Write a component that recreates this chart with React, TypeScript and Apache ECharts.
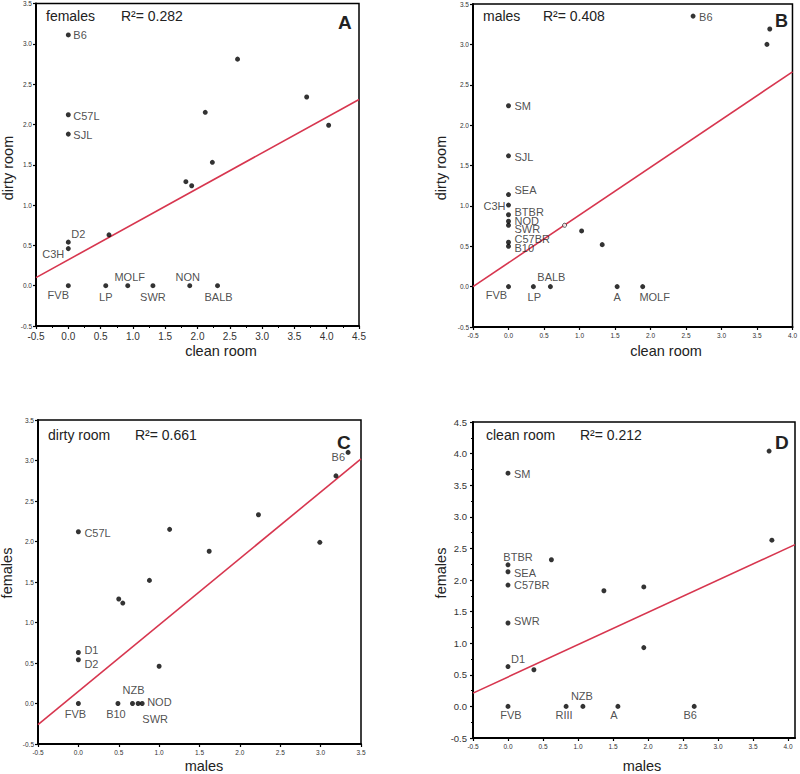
import React, { useEffect, useRef } from "react";
import * as echarts from "echarts";

// ---------- Panel A: females, clean room (x) vs dirty room (y) ----------
const aNames = ["B6", "C57L", "SJL", "D2", "C3H", "FVB", "", "LP", "MOLF", "SWR", "NON", "BALB", "", "", "", "", "", "", ""];
const aX = [0, 0, 0, 0, 0, 0, 0.63, 0.58, 0.92, 1.31, 1.88, 2.31, 1.82, 1.91, 2.23, 2.12, 2.62, 3.69, 4.03];
const aY = [3.11, 2.12, 1.88, 0.54, 0.46, 0, 0.63, 0, 0, 0, 0, 0, 1.29, 1.24, 1.53, 2.15, 2.81, 2.34, 1.99];
const aFitX = [-0.5, 4.5];
const aFitY = [0.1, 2.31];

// ---------- Panel B: males, clean room (x) vs dirty room (y) ----------
const bNames = ["B6", "", "", "SM", "SJL", "SEA", "C3H", "BTBR", "NOD", "SWR", "C57BR", "B10", "FVB", "LP", "BALB", "A", "MOLF", "", "", ""];
const bX = [2.6, 3.68, 3.64, 0, 0, 0, 0, 0, 0, 0, 0, 0, 0, 0.35, 0.59, 1.53, 1.89, 0.79, 1.03, 1.32];
const bY = [3.35, 3.19, 3.0, 2.24, 1.62, 1.14, 1.01, 0.89, 0.81, 0.76, 0.55, 0.5, 0, 0, 0, 0, 0, 0.76, 0.69, 0.52];
const bFitX = [-0.5, 4.0];
const bFitY = [0.0, 2.66];

// ---------- Panel C: dirty room, males (x) vs females (y) ----------
const cNames = ["B6", "", "C57L", "", "", "", "", "", "", "", "D1", "D2", "", "FVB", "B10", "NZB", "SWR", "NOD"];
const cX = [3.34, 3.19, 0, 1.13, 2.23, 2.99, 1.62, 0.88, 0.5, 0.55, 0, 0, 1.0, 0, 0.49, 0.67, 0.74, 0.79];
const cY = [3.1, 2.81, 2.12, 2.15, 2.33, 1.99, 1.88, 1.52, 1.29, 1.24, 0.63, 0.54, 0.46, 0, 0, 0, 0, 0];
const cFitX = [-0.5, 3.5];
const cFitY = [-0.26, 3.02];

// ---------- Panel D: clean room, males (x) vs females (y) ----------
const dNames = ["", "", "SM", "BTBR", "SEA", "C57BR", "SWR", "D1", "", "", "", "", "", "FVB", "RIII", "NZB", "A", "B6"];
const dX = [3.73, 3.77, 0, 0, 0, 0, 0, 0, 0.62, 1.37, 1.94, 1.94, 0.37, 0, 0.83, 1.07, 1.57, 2.66];
const dY = [4.04, 2.63, 3.69, 2.24, 2.13, 1.92, 1.32, 0.63, 2.32, 1.83, 1.89, 0.93, 0.58, 0, 0, 0, 0, 0];
const dFitX = [-0.5, 4.1];
const dFitY = [0.21, 2.56];

// label placements (offset of label anchor from point, alignment) — styling only
type Place = [number, number, "left" | "center" | "right"];
const aPlace: Record<string, Place> = {
  B6: [5, 0, "left"], C57L: [5, 1, "left"], SJL: [5, 1, "left"],
  D2: [3, -8, "left"], C3H: [-4, 5, "right"], FVB: [-10, 9, "center"],
  LP: [0, 11, "center"], MOLF: [2, -9, "center"], SWR: [0, 11, "center"],
  NON: [-2, -9, "center"], BALB: [1, 11, "center"],
};
const bPlace: Record<string, Place> = {
  B6: [6, 1, "left"], SM: [6, 0, "left"], SJL: [6, 1, "left"], SEA: [6, -5, "left"],
  C3H: [-3, 1, "right"], BTBR: [6, -3, "left"], NOD: [6, 0, "left"], SWR: [6, 4, "left"],
  C57BR: [6, -3, "left"], B10: [6, 2, "left"], FVB: [-12, 8, "center"],
  LP: [1, 10, "center"], BALB: [1, -10, "center"], A: [0, 10, "center"], MOLF: [12, 10, "center"],
};
const cPlace: Record<string, Place> = {
  B6: [-3, 5, "right"], C57L: [6, 1, "left"], D1: [6, -2, "left"], D2: [6, 4, "left"],
  FVB: [-3, 10, "center"], B10: [-2, 10, "center"], NZB: [1, -14, "center"],
  SWR: [17, 15, "center"], NOD: [5, -2, "left"],
};
const dPlace: Record<string, Place> = {
  SM: [6, 1, "left"], BTBR: [10, -8, "center"], SEA: [6, 1, "left"], C57BR: [6, 0, "left"],
  SWR: [6, -2, "left"], D1: [3, -8, "left"], FVB: [3, 9, "center"], RIII: [-2, 9, "center"],
  NZB: [-1, -10, "center"], A: [-4, 9, "center"], B6: [-4, 9, "center"],
};
// points drawn as small open circles (style only)
const aHollow: number[] = [];
const bHollow: number[] = [17];
const cHollow: number[] = [];
const dHollow: number[] = [];

const FONT = "'Liberation Sans', Arial, Helvetica, sans-serif";
const RED = "#d7364f";

type Panel = {
  names: string[]; xs: number[]; ys: number[]; fitX: number[]; fitY: number[];
  place: Record<string, Place>; hollow: number[];
  grid: { left: number; top: number; width: number; height: number };
  xMin: number; xMax: number; yMin: number; yMax: number;
  xFont: number; yFont: number; xMinor: boolean; yMinor: boolean;
  xLabelMargin: number; yLabelMargin: number;
};

const panels: Panel[] = [
  {
    names: aNames, xs: aX, ys: aY, fitX: aFitX, fitY: aFitY, place: aPlace, hollow: aHollow,
    grid: { left: 36, top: 3, width: 323, height: 323 },
    xMin: -0.5, xMax: 4.5, yMin: -0.5, yMax: 3.5,
    xFont: 10, yFont: 6.5, xMinor: true, yMinor: false, xLabelMargin: 5, yLabelMargin: 4,
  },
  {
    names: bNames, xs: bX, ys: bY, fitX: bFitX, fitY: bFitY, place: bPlace, hollow: bHollow,
    grid: { left: 473, top: 4, width: 322, height: 323 },
    xMin: -0.5, xMax: 4.0, yMin: -0.5, yMax: 3.5,
    xFont: 6.5, yFont: 6.5, xMinor: false, yMinor: false, xLabelMargin: 5, yLabelMargin: 4,
  },
  {
    names: cNames, xs: cX, ys: cY, fitX: cFitX, fitY: cFitY, place: cPlace, hollow: cHollow,
    grid: { left: 38, top: 420, width: 323, height: 324 },
    xMin: -0.5, xMax: 3.5, yMin: -0.5, yMax: 3.5,
    xFont: 6.5, yFont: 6.5, xMinor: false, yMinor: false, xLabelMargin: 5, yLabelMargin: 4,
  },
  {
    names: dNames, xs: dX, ys: dY, fitX: dFitX, fitY: dFitY, place: dPlace, hollow: dHollow,
    grid: { left: 473, top: 422, width: 322, height: 316 },
    xMin: -0.5, xMax: 4.1, yMin: -0.5, yMax: 4.5,
    xFont: 6.5, yFont: 9.5, xMinor: false, yMinor: true, xLabelMargin: 5, yLabelMargin: 6,
  },
];

const texts = [
  { t: "females", x: 46, y: 16, s: 14, w: "normal" },
  { t: "R²= 0.282", x: 121, y: 16, s: 14, w: "normal" },
  { t: "A", x: 338, y: 22, s: 19, w: "bold" },
  { t: "males", x: 483, y: 16, s: 14, w: "normal" },
  { t: "R²= 0.408", x: 543, y: 16, s: 14, w: "normal" },
  { t: "B", x: 775, y: 21, s: 18, w: "bold" },
  { t: "dirty room", x: 48, y: 435, s: 14, w: "normal" },
  { t: "R²= 0.661", x: 135, y: 435, s: 14, w: "normal" },
  { t: "C", x: 337, y: 442, s: 19, w: "bold" },
  { t: "clean room", x: 486, y: 435, s: 14, w: "normal" },
  { t: "R²= 0.212", x: 580, y: 435, s: 14, w: "normal" },
  { t: "D", x: 775, y: 442, s: 19, w: "bold" },
];

const axisTitles = [
  { t: "dirty room", x: 8, y: 168, rot: true },
  { t: "clean room", x: 221, y: 351, rot: false },
  { t: "dirty room", x: 441, y: 168, rot: true },
  { t: "clean room", x: 666, y: 351, rot: false },
  { t: "females", x: 7, y: 573, rot: true },
  { t: "males", x: 204, y: 766, rot: false },
  { t: "females", x: 441, y: 573, rot: true },
  { t: "males", x: 642, y: 766, rot: false },
];

function buildOption() {
  const grid: any[] = [];
  const xAxis: any[] = [];
  const yAxis: any[] = [];
  const series: any[] = [];
  panels.forEach((p, i) => {
    grid.push({
      ...p.grid, show: true, borderColor: "#000", borderWidth: 1.5,
      backgroundColor: "transparent", containLabel: false,
    });
    const common = (font: number, margin: number, minor: boolean) => ({
      type: "value", gridIndex: i, interval: 0.5,
      axisLine: { show: true, onZero: false, lineStyle: { color: "#000", width: 2 } },
      axisTick: { show: true, inside: false, length: 3, lineStyle: { color: "#000", width: 1.2 } },
      minorTick: { show: minor, splitNumber: 2, length: 2, lineStyle: { color: "#000", width: 1 } },
      splitLine: { show: false },
      axisLabel: {
        fontSize: font, color: "#333", fontFamily: FONT, margin,
        formatter: (v: number) => v.toFixed(1),
      },
    });
    xAxis.push({
      ...common(p.xFont, p.xLabelMargin, p.xMinor), min: p.xMin, max: p.xMax,
      axisLabel: {
        ...common(p.xFont, p.xLabelMargin, p.xMinor).axisLabel,
        showMaxLabel: Math.abs(p.xMax / 0.5 - Math.round(p.xMax / 0.5)) < 1e-9,
      },
    });
    yAxis.push({ ...common(p.yFont, p.yLabelMargin, p.yMinor), min: p.yMin, max: p.yMax });

    series.push({
      type: "line", xAxisIndex: i, yAxisIndex: i,
      data: p.fitX.map((x, k) => [x, p.fitY[k]]),
      showSymbol: false, symbol: "none", clip: true, silent: true,
      lineStyle: { color: RED, width: 1.6 }, z: 2,
    });
    series.push({
      type: "scatter", xAxisIndex: i, yAxisIndex: i, symbolSize: 5, z: 3,
      itemStyle: { color: "#000" },
      data: p.xs.map((x, k) => {
        const name = p.names[k];
        const pl = p.place[name];
        const hollow = p.hollow.indexOf(k) >= 0;
        return {
          value: [x, p.ys[k]], name,
          symbolSize: hollow ? 4 : 5,
          itemStyle: hollow ? { color: "#fff", borderColor: "#222", borderWidth: 1 } : undefined,
          label: name && pl
            ? {
                show: true, formatter: name, position: "inside",
                offset: [pl[0], pl[1]], align: pl[2], verticalAlign: "middle",
                fontSize: 11, color: "#222", fontFamily: FONT,
              }
            : { show: false },
        };
      }),
    });
  });

  const graphic: any[] = [];
  texts.forEach((t) => {
    graphic.push({
      type: "text", x: t.x, y: t.y, silent: true,
      style: {
        text: t.t, fontSize: t.s, fontWeight: t.w, fontFamily: FONT, fill: "#222",
        textAlign: "left", textVerticalAlign: "middle",
      },
    });
  });
  axisTitles.forEach((a) => {
    graphic.push({
      type: "text", x: a.x, y: a.y, rotation: a.rot ? Math.PI / 2 : 0, silent: true,
      style: {
        text: a.t, fontSize: 14.5, fontFamily: FONT, fill: "#222",
        textAlign: "center", textVerticalAlign: "middle",
      },
    });
  });

  return {
    animation: false,
    backgroundColor: "#fff",
    textStyle: { fontFamily: FONT },
    grid, xAxis, yAxis, series, graphic,
  };
}

export default function App() {
  const ref = useRef<HTMLDivElement>(null);
  useEffect(() => {
    document.body.style.margin = "0";
    const chart = echarts.init(ref.current!, undefined, { renderer: "svg" });
    chart.setOption(buildOption() as any);
    return () => chart.dispose();
  }, []);
  return <div ref={ref} style={{ width: 800, height: 774 }} />;
}
